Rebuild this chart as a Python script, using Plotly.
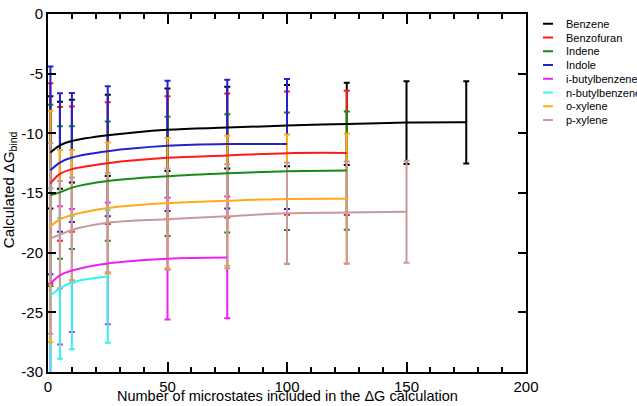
import plotly.graph_objects as go

# ---------------- data ----------------
x_points = [1, 5, 10, 25, 50, 75, 100, 125, 150, 175]

series_names = ["Benzene", "Benzofuran", "Indene", "Indole",
                "i-butylbenzene", "n-butylbenzene", "o-xylene", "p-xylene"]

benzene_mean = [-11.6, -11.0, -10.65, -10.17, -9.7, -9.52, -9.35, -9.21, -9.1, -9.08]
benzene_err = [4.7, 3.65, 3.47, 3.4, 3.45, 3.42, 3.41, 3.45, 3.46, 3.45]

benzofuran_mean = [-14.2, -13.4, -13.0, -12.5, -12.05, -11.86, -11.66, -11.64]
benzofuran_err = [8.4, 5.6, 5.25, 5.1, 5.15, 5.2, 5.17, 5.2]

indene_mean = [-15.2, -14.95, -14.55, -14.0, -13.6, -13.35, -13.18, -13.12]
indene_err = [7.6, 5.55, 5.15, 5.0, 5.0, 4.95, 4.92, 4.95]

indole_mean = [-13.1, -12.45, -12.03, -11.5, -11.05, -10.9, -10.9]
indole_err = [8.7, 5.8, 5.4, 5.45, 5.45, 5.4, 5.45]

ibutyl_mean = [-22.6, -21.9, -21.5, -20.9, -20.5, -20.4]
ibutyl_err = [8.0, 5.8, 5.15, 5.1, 5.1, 5.1]

nbutyl_mean = [-23.6, -23.0, -22.5, -22.0]
nbutyl_err = [9.0, 5.9, 5.6, 5.55]

oxylene_mean = [-17.8, -17.2, -16.85, -16.26, -15.85, -15.65, -15.5, -15.48]
oxylene_err = [9.7, 5.8, 5.45, 5.5, 5.45, 5.45, 5.4, 5.45]

pxylene_mean = [-18.8, -18.5, -18.1, -17.5, -17.2, -16.95, -16.7, -16.63, -16.57]
pxylene_err = [8.0, 4.5, 4.4, 4.15, 4.25, 4.35, 4.24, 4.27, 4.28]

all_means = [benzene_mean, benzofuran_mean, indene_mean, indole_mean,
             ibutyl_mean, nbutyl_mean, oxylene_mean, pxylene_mean]
all_errs = [benzene_err, benzofuran_err, indene_err, indole_err,
            ibutyl_err, nbutyl_err, oxylene_err, pxylene_err]

y_tickvals = [0, -5, -10, -15, -20, -25, -30]
y_ticktext = ["0", "-5", "-10", "-15", "-20", "-25", "-30"]

# ---------------- style ----------------
colors = ["#000000", "#ff1a1a", "#168c16", "#2323cc",
          "#ee22ee", "#33f2f2", "#ffaa1a", "#c89a9a"]

FONT = "Liberation Sans, Arial, Helvetica, sans-serif"
W, H = 637, 406
L, R, T, B = 48, 111, 5, 34
PW, PH = W - L - R, H - T - B


def px_x(px):
    return (px - L) / PW


def px_y(py):
    return (H - B - py) / PH


fig = go.Figure()

# error bars (drawn first)
for name, m, e, c in zip(series_names, all_means, all_errs, colors):
    fig.add_trace(go.Scatter(
        x=x_points[:len(m)], y=m, mode="markers",
        marker=dict(size=1, color="rgba(0,0,0,0)"),
        error_y=dict(type="data", array=e, color=c, thickness=2, width=3),
        showlegend=False, hoverinfo="skip"))

# mean curves on top
for name, m, c in zip(series_names, all_means, colors):
    fig.add_trace(go.Scatter(
        x=x_points[:len(m)], y=m, mode="lines", name=name,
        line=dict(color=c, width=2, shape="spline", smoothing=1.0),
        showlegend=False, hoverinfo="skip"))

# custom legend (short line samples + names)
shapes = []
annotations = []
for i, (name, c) in enumerate(zip(series_names, colors)):
    yy = 15 + 14.1 * i
    shapes.append(dict(type="line", xref="paper", yref="paper",
                       x0=px_x(543), x1=px_x(553), y0=px_y(yy), y1=px_y(yy),
                       line=dict(color=c, width=2)))
    annotations.append(dict(text=name, xref="paper", yref="paper",
                            x=px_x(564), y=px_y(yy), xanchor="left", yanchor="middle",
                            showarrow=False, font=dict(size=11, color="black", family=FONT)))

annotations.append(dict(text="Calculated \u0394G<sub>bind</sub>", xref="paper", yref="paper",
                        x=px_x(9), y=0.508, textangle=-90, xanchor="center", yanchor="middle",
                        showarrow=False, font=dict(size=15, color="black", family=FONT)))
annotations.append(dict(text="Number of microstates included in the \u0394G calculation",
                        xref="paper", yref="paper", x=0.5, y=px_y(407),
                        xanchor="center", yanchor="bottom", showarrow=False,
                        font=dict(size=14.5, color="black", family=FONT)))

axis_common = dict(showgrid=False, zeroline=False, showline=True, linecolor="black",
                   linewidth=2, mirror="ticks", ticks="inside", tickcolor="black",
                   tickwidth=2, ticklabeloverflow="allow",
                   tickfont=dict(size=15, color="black", family=FONT))

fig.update_layout(
    width=W, height=H,
    margin=dict(l=L, r=R, t=T, b=B),
    paper_bgcolor="white", plot_bgcolor="white",
    showlegend=False,
    xaxis=dict(range=[0, 200], tickmode="linear", tick0=0, dtick=50, ticklen=10,
               minor=dict(dtick=10, ticklen=5, ticks="inside", tickcolor="black", tickwidth=1.5),
               **axis_common),
    yaxis=dict(range=[-30, 0], tickmode="array", tickvals=y_tickvals, ticktext=y_ticktext,
               ticklen=8, **axis_common),
    shapes=shapes,
    annotations=annotations,
)

fig.write_html("out.html", config={"displayModeBar": False},
               post_script="document.body.style.margin='0px';")
